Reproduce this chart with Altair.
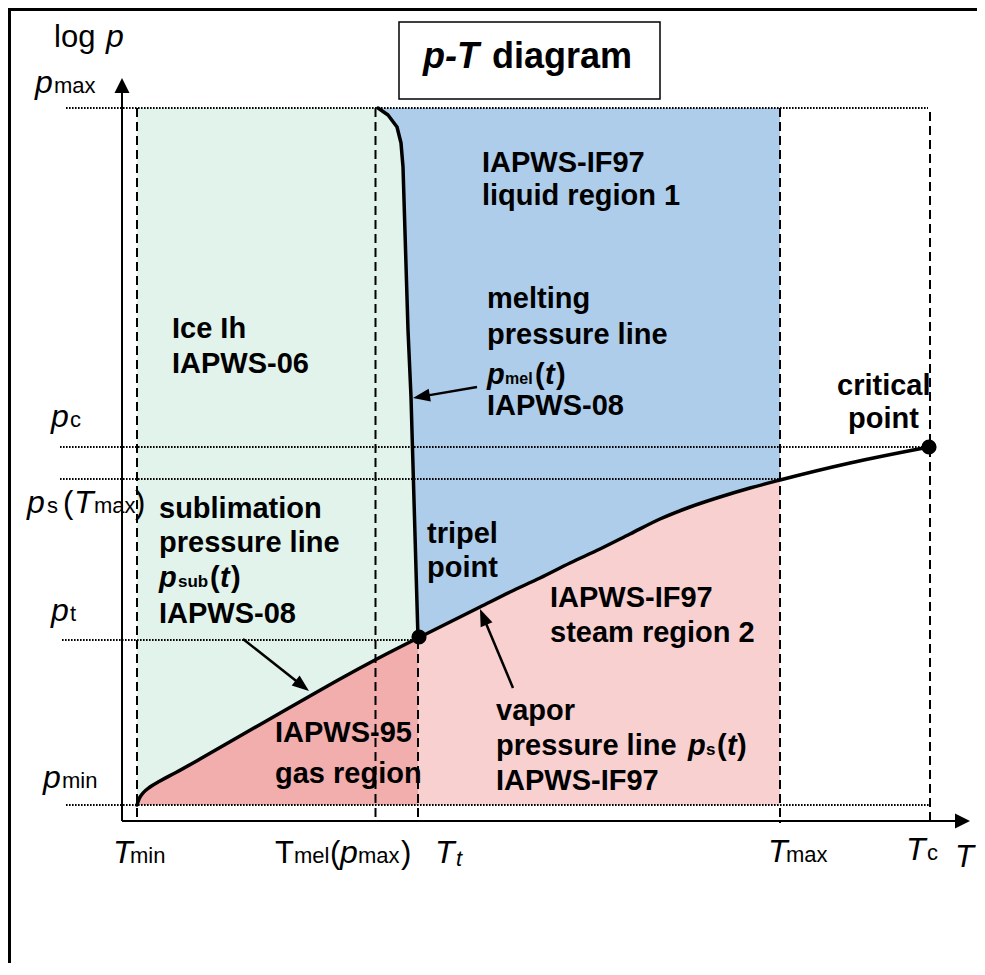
import math
import pandas as pd
import altair as alt

FONT = "Liberation Sans"

# ---------------- schematic data (T to the right, log p upward; screen units of the sketch) -------------
# characteristic temperatures: vertical dashed guide lines
T_names = ["Tmin", "Tmel(pmax)", "Tt", "Tmax", "Tc"]
T_pos = [137, 375.5, 418, 780, 930]
T_top = [108, 108, 640, 108, 112]
T_bot = [819, 821, 821, 823, 821]

# characteristic pressures: horizontal dotted guide lines
p_names = ["pmax", "pc", "ps(Tmax)", "pt", "pmin"]
p_pos = [108, 447, 479, 640, 805]
p_left = [66, 60, 60, 62, 66]
p_right = [928, 930, 780, 418, 930]

# phase boundary curves
sub_T = [137, 139, 143, 150, 160, 175, 200, 240, 275, 310, 340, 375, 418]
sub_p = [805, 799, 793, 787, 781, 773, 759, 736, 716, 696, 679, 660, 638]
mel_T = [378, 388, 397, 401, 403, 408, 411, 418]
mel_p = [108, 115, 127, 143, 167, 330, 397, 638]
vap_T = [418, 450, 480, 510, 540, 570, 600, 630, 660, 690, 720, 750, 780, 850, 929]
vap_p = [638, 622, 607, 592, 578, 563, 549, 534, 519, 507, 497, 488, 480, 463, 447]

# special points
pt_names = ["tripel point", "critical point"]
pt_T = [419, 929]
pt_p = [637, 447]

# annotation arrows (start -> tip)
arr_x0 = [477, 243, 513]
arr_y0 = [387, 639, 688]
arr_x1 = [413, 309, 480]
arr_y1 = [398, 691, 609]

# region colours
C_ICE = "#e1f3ea"
C_LIQ = "#adcdea"
C_GAS = "#f2adad"
C_STEAM = "#f8d0d0"

# text pieces: (text, x, baseline, size, italic, bold)
labels = [
    # vertical axis title
    ("log", 54, 47, 31, 0, 0), ("p", 106, 47, 32, 1, 0),
    # pressure marks
    ("p", 35, 93, 32, 1, 0), ("max", 54, 93, 22, 0, 0),
    ("p", 51, 427, 32, 1, 0), ("c", 70, 427, 22, 0, 0),
    ("p", 27, 513, 32, 1, 0), ("s", 47, 513, 22, 0, 0), ("(", 63, 513, 31, 0, 0),
    ("T", 74, 513, 32, 1, 0), ("max", 94, 513, 22, 0, 0), (")", 135, 513, 31, 0, 0),
    ("p", 51, 621, 32, 1, 0), ("t", 70, 621, 22, 0, 0),
    ("p", 43, 788, 32, 1, 0), ("min", 62, 788, 22, 0, 0),
    # temperature marks
    ("T", 113, 863, 32, 1, 0), ("min", 130, 863, 22, 0, 0),
    ("T", 275, 863, 31, 0, 0), ("mel", 294, 863, 22, 0, 0), ("(", 330, 863, 31, 0, 0),
    ("p", 340, 863, 32, 1, 0), ("max", 358, 863, 22, 0, 0), (")", 401, 863, 31, 0, 0),
    ("T", 435, 863, 32, 1, 0), ("t", 456, 866, 22, 1, 0),
    ("T", 768, 862, 32, 1, 0), ("max", 786, 862, 22, 0, 0),
    ("T", 906, 860, 32, 1, 0), ("c", 927, 860, 22, 0, 0),
    ("T", 955, 867, 31, 1, 0),
    # title
    ("p-T", 423, 68, 36, 1, 1), ("diagram", 492, 68, 36, 0, 1),
    # region / line labels
    ("IAPWS-IF97", 482, 172, 29, 0, 1), ("liquid region 1", 482, 205, 29, 0, 1),
    ("melting", 487, 308, 29, 0, 1), ("pressure line", 487, 344, 29, 0, 1),
    ("p", 487, 384, 29, 1, 1), ("mel", 505, 384, 16, 0, 1), ("(", 535, 384, 29, 0, 1),
    ("t", 545, 384, 29, 1, 1), (")", 556, 384, 29, 0, 1),
    ("IAPWS-08", 487, 415, 29, 0, 1),
    ("Ice Ih", 172, 338, 29, 0, 1), ("IAPWS-06", 172, 373, 29, 0, 1),
    ("sublimation", 159, 518, 29, 0, 1), ("pressure line", 159, 552, 29, 0, 1),
    ("p", 159, 587, 29, 1, 1), ("sub", 178, 587, 17, 0, 1), ("(", 210, 587, 29, 0, 1),
    ("t", 220, 587, 29, 1, 1), (")", 231, 587, 29, 0, 1),
    ("IAPWS-08", 159, 623, 29, 0, 1),
    ("tripel", 427, 543, 29, 0, 1), ("point", 427, 577, 29, 0, 1),
    ("critical", 837, 395, 29, 0, 1), ("point", 848, 428, 29, 0, 1),
    ("IAPWS-IF97", 550, 607, 29, 0, 1), ("steam region 2", 550, 642, 29, 0, 1),
    ("vapor", 496, 720, 29, 0, 1), ("pressure line", 496, 755, 29, 0, 1),
    ("p", 688, 755, 29, 1, 1), ("s", 706, 755, 17, 0, 1), ("(", 717, 755, 29, 0, 1),
    ("t", 727, 755, 29, 1, 1), (")", 737, 755, 29, 0, 1),
    ("IAPWS-IF97", 496, 790, 29, 0, 1),
    ("IAPWS-95", 275, 742, 29, 0, 1), ("gas region", 275, 783, 29, 0, 1),
]

# ---------------- scales ----------------
W, H = 969, 955
XS = alt.Scale(domain=[8, 8 + W], nice=False, zero=False)
YS = alt.Scale(domain=[8, 8 + H], nice=False, zero=False, reverse=True)


def X(f):
    return alt.X(f, type="quantitative", scale=XS, axis=None)


def Y(f):
    return alt.Y(f, type="quantitative", scale=YS, axis=None)


layers = []

# ---------------- regions ----------------
ice = pd.DataFrame({"x": [T_pos[0]], "x2": [T_pos[2]], "y": [p_pos[0]], "y2": [p_pos[4]]})
layers.append(alt.Chart(ice).mark_rect(color=C_ICE).encode(
    x=X("x"), x2=alt.X2("x2"), y=Y("y"), y2=alt.Y2("y2")))

liq_T = mel_T + [t for t in vap_T if T_pos[2] < t <= T_pos[3]]
liq_p = mel_p + [p for t, p in zip(vap_T, vap_p) if T_pos[2] < t <= T_pos[3]]
liq = pd.DataFrame({"x": liq_T, "y": liq_p, "top": p_pos[0]})
layers.append(alt.Chart(liq).mark_area(color=C_LIQ, opacity=1).encode(
    x=X("x"), y=Y("y"), y2=alt.Y2("top")))

gas = pd.DataFrame({"x": sub_T, "y": sub_p, "bot": p_pos[4]})
layers.append(alt.Chart(gas).mark_area(color=C_GAS, opacity=1, interpolate="monotone").encode(
    x=X("x"), y=Y("y"), y2=alt.Y2("bot")))

st_T = [t for t in vap_T if t <= T_pos[3]]
st_p = [p for t, p in zip(vap_T, vap_p) if t <= T_pos[3]]
steam = pd.DataFrame({"x": st_T, "y": st_p, "bot": p_pos[4]})
layers.append(alt.Chart(steam).mark_area(color=C_STEAM, opacity=1, interpolate="monotone").encode(
    x=X("x"), y=Y("y"), y2=alt.Y2("bot")))

# ---------------- guide lines ----------------
dots = pd.DataFrame({"name": p_names, "y": p_pos, "x1": p_left, "x2": p_right})
layers.append(alt.Chart(dots).mark_rule(color="black", strokeWidth=1.8, strokeDash=[1.6, 1.4]).encode(
    y=Y("y"), x=X("x1"), x2=alt.X2("x2")))

dashes = pd.DataFrame({"name": T_names, "x": T_pos, "y1": T_top, "y2": T_bot})
layers.append(alt.Chart(dashes).mark_rule(color="black", strokeWidth=2, strokeDash=[9, 5]).encode(
    x=X("x"), y=Y("y1"), y2=alt.Y2("y2")))

# ---------------- axes ----------------
AX_X, AX_Y = 122, 821
axes = pd.DataFrame({"x1": [AX_X, AX_X], "x2": [AX_X, 956], "y1": [92, AX_Y], "y2": [AX_Y, AX_Y]})
layers.append(alt.Chart(axes).mark_rule(color="black", strokeWidth=2).encode(
    x=X("x1"), x2=alt.X2("x2"), y=Y("y1"), y2=alt.Y2("y2")))
axheads = pd.DataFrame({"x": [AX_X, 970], "y": [78, AX_Y], "ang": [0, 90]})
layers.append(alt.Chart(axheads).mark_point(
    shape="M0,0L-1,2L1,2Z", size=225, filled=True, color="black", opacity=1).encode(
    x=X("x"), y=Y("y"), angle=alt.Angle("ang", scale=None)))

# ---------------- curves ----------------
for cx, cy, interp in [(sub_T, sub_p, "monotone"), (mel_T, mel_p, "linear"), (vap_T, vap_p, "monotone")]:
    d = pd.DataFrame({"x": cx, "y": cy, "o": range(len(cx))})
    layers.append(alt.Chart(d).mark_line(color="black", strokeWidth=3.5, strokeCap="round",
                                         strokeJoin="round", interpolate=interp).encode(
        x=X("x"), y=Y("y"), order="o:Q"))

pts = pd.DataFrame({"name": pt_names, "x": pt_T, "y": pt_p})
layers.append(alt.Chart(pts).mark_circle(size=230, color="black", opacity=1).encode(
    x=X("x"), y=Y("y")))

# ---------------- annotation arrows ----------------
rows = []
for x0, y0, x1, y1 in zip(arr_x0, arr_y0, arr_x1, arr_y1):
    dx, dy = x1 - x0, y1 - y0
    L = math.hypot(dx, dy)
    ux, uy = dx / L, dy / L
    ang = math.degrees(math.atan2(dx, -dy)) % 360
    rows.append({"x0": x0, "y0": y0, "xe": x1 - 11 * ux, "ye": y1 - 11 * uy,
                 "xt": x1, "yt": y1, "ang": ang})
arr = pd.DataFrame(rows)
layers.append(alt.Chart(arr).mark_rule(color="black", strokeWidth=2.5).encode(
    x=X("x0"), y=Y("y0"), x2=alt.X2("xe"), y2=alt.Y2("ye")))
layers.append(alt.Chart(arr).mark_point(
    shape="M0,0L-0.75,2L0.75,2Z", size=289, filled=True, color="black", opacity=1).encode(
    x=X("xt"), y=Y("yt"), angle=alt.Angle("ang", scale=None)))

# ---------------- title box & frame ----------------
box = pd.DataFrame({"x": [399], "x2": [660], "y": [22], "y2": [99]})
layers.append(alt.Chart(box).mark_rect(fill="white", stroke="black", strokeWidth=1.5).encode(
    x=X("x"), x2=alt.X2("x2"), y=Y("y"), y2=alt.Y2("y2")))

frame = pd.DataFrame({"x1": [8, 9.5], "x2": [8 + W, 9.5], "y1": [9.5, 8], "y2": [9.5, 8 + H]})
layers.append(alt.Chart(frame).mark_rule(color="black", strokeWidth=3).encode(
    x=X("x1"), x2=alt.X2("x2"), y=Y("y1"), y2=alt.Y2("y2")))

# ---------------- text ----------------
tdf = pd.DataFrame(labels, columns=["text", "x", "y", "size", "italic", "bold"])
for (it, bd), sub in tdf.groupby(["italic", "bold"]):
    layers.append(alt.Chart(sub).mark_text(
        align="left", baseline="alphabetic", font=FONT, color="black",
        fontStyle="italic" if it else "normal", fontWeight="bold" if bd else "normal").encode(
        x=X("x"), y=Y("y"), text="text:N", size=alt.Size("size:Q", scale=None)))

chart = alt.layer(*layers).properties(
    width=W, height=H, padding=0, autosize=alt.AutoSizeParams(type="none")
).configure_view(stroke=None)

chart.save("out.html", embed_options={"renderer": "svg", "actions": False})
